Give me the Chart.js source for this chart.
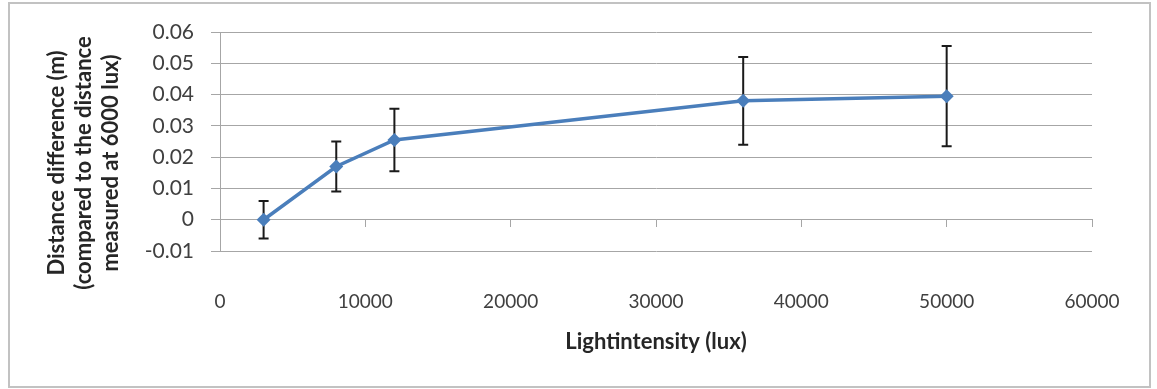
<!DOCTYPE html>
<html lang="en">
<head>
    <meta charset="UTF-8">
    <title>Distance difference vs light intensity</title>
    <style>
        body { margin: 0; background: #fff; }
        .wrap { position: relative; width: 1157px; height: 389px; }
        /* grey outer frame like the spreadsheet chart box */
        .frame {
            position: absolute; left: 8px; top: 2px;
            width: 1143px; height: 386px;
            border: 2px solid #c2c2c2; box-sizing: border-box;
        }
        canvas { position: absolute; left: 0; top: 0; }
    </style>
</head>
<body>

<div class="wrap">
    <div class="frame"></div>
    <canvas id="grafico" width="1157" height="389"></canvas>
</div>

<script src="https://cdn.jsdelivr.net/npm/chart.js"></script>
<script>
    // data
    const lux = [3000, 8000, 12000, 36000, 50000];
    const distDiff = [0, 0.017, 0.0255, 0.038, 0.0395];
    const errors = [0.006, 0.008, 0.01, 0.014, 0.016];

    const xTicks = [0, 10000, 20000, 30000, 40000, 50000, 60000];
    const yTicks = [-0.01, 0, 0.01, 0.02, 0.03, 0.04, 0.05, 0.06];

    const xTitle = 'Lightintensity (lux)';
    const yTitle = ['Distance difference (m)', '(compared to the distance', 'measured at 6000 lux)'];

    const lineColor = '#4a7ebb';
    const gridColor = '#a6a6a6';
    const textColor = '#404040';

    Chart.defaults.font.family = 'Lato, "Open Sans", sans-serif';

    // error bars, drawn under the line like in the original
    const errorBars = {
        id: 'errorBars',
        beforeDatasetsDraw(chart) {
            const ctx = chart.ctx;
            const xs = chart.scales.x, ys = chart.scales.y;
            ctx.save();
            ctx.strokeStyle = '#1a1a1a';
            ctx.lineWidth = 2;
            lux.forEach((v, i) => {
                const px = xs.getPixelForValue(v);
                const top = ys.getPixelForValue(distDiff[i] + errors[i]);
                const bot = ys.getPixelForValue(distDiff[i] - errors[i]);
                ctx.beginPath();
                ctx.moveTo(px, top); ctx.lineTo(px, bot);
                ctx.moveTo(px - 5, top); ctx.lineTo(px + 5, top);
                ctx.moveTo(px - 5, bot); ctx.lineTo(px + 5, bot);
                ctx.stroke();
            });
            ctx.restore();
        }
    };

    // three line y title, centred a bit lower than the plot like Excel did
    const yTitlePlugin = {
        id: 'yTitle',
        afterDraw(chart) {
            const ctx = chart.ctx;
            ctx.save();
            ctx.translate(57, 163);
            ctx.rotate(-Math.PI / 2);
            ctx.font = 'bold 22px Lato, sans-serif';
            ctx.fillStyle = '#262626';
            ctx.textAlign = 'center';
            ctx.textBaseline = 'middle';
            yTitle.forEach((t, i) => ctx.fillText(t, 0, i * 27));
            ctx.restore();
        }
    };

    const useTicks = list => scale => { scale.ticks = list.map(v => ({ value: v })); };

    new Chart(document.getElementById('grafico').getContext('2d'), {
        type: 'scatter',
        data: {
            datasets: [{
                data: lux.map((x, i) => ({ x: x, y: distDiff[i] })),
                showLine: true,
                borderColor: lineColor,
                backgroundColor: lineColor,
                borderWidth: 3.5,
                pointStyle: 'rectRot',
                pointRadius: 7,
                pointHoverRadius: 7,
                pointBorderWidth: 0
            }]
        },
        options: {
            responsive: false,
            animation: false,
            layout: { padding: { top: 32, right: 65, left: 0, bottom: 0 } },
            plugins: { legend: { display: false }, tooltip: { enabled: false } },
            scales: {
                x: {
                    type: 'linear', position: 'bottom', min: 0, max: 60000,
                    afterBuildTicks: useTicks(xTicks),
                    afterFit: s => { s.height = 138; },
                    grid: { display: false },
                    border: { display: false },
                    ticks: {
                        padding: 31, color: textColor, font: { size: 19 },
                        maxRotation: 0, autoSkip: false,
                        callback: v => String(v)
                    },
                    title: {
                        display: true, text: xTitle, color: '#262626',
                        font: { size: 22, weight: 'bold' },
                        padding: { top: 0, bottom: 34 }
                    }
                },
                // axis line with tick marks sitting at y = 0
                x2: {
                    type: 'linear', position: { y: 0 }, min: 0, max: 60000,
                    afterBuildTicks: useTicks(xTicks),
                    grid: { drawOnChartArea: false, tickLength: 7, color: gridColor },
                    border: { color: gridColor },
                    ticks: { display: false }
                },
                y: {
                    type: 'linear', min: -0.01, max: 0.06,
                    afterBuildTicks: useTicks(yTicks),
                    afterFit: s => { s.width = 220; },
                    grid: { color: gridColor, tickLength: 9 },
                    border: { color: gridColor },
                    ticks: {
                        padding: 17, color: textColor, font: { size: 21 },
                        callback: v => String(Number(v.toFixed(2)))
                    }
                }
            }
        },
        plugins: [errorBars, yTitlePlugin]
    });
</script>

</body>
</html>
